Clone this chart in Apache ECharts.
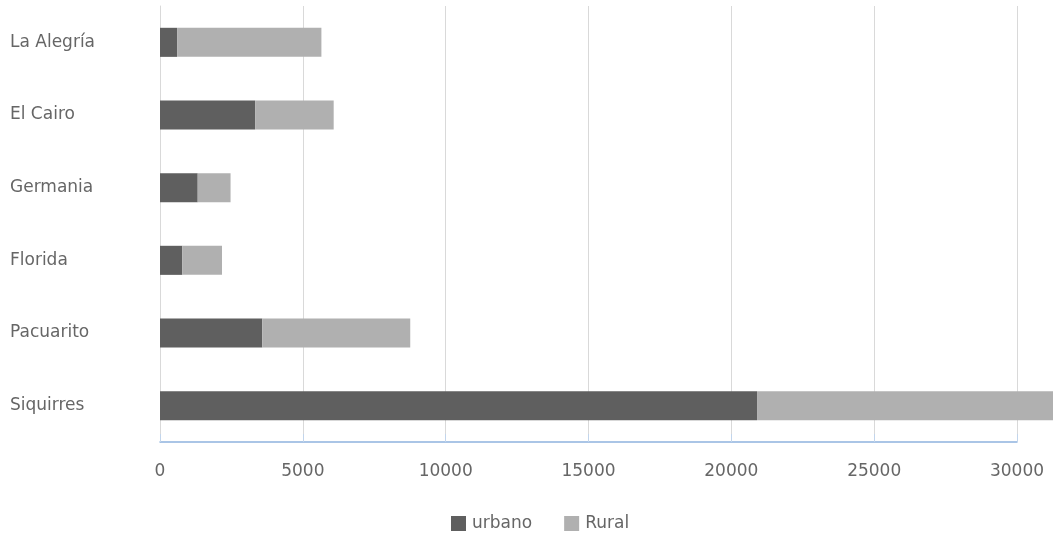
<!DOCTYPE html>
<html>
<head>
<meta charset="utf-8">
<script src="https://cdn.jsdelivr.net/npm/echarts@6/dist/echarts.min.js"></script>
<style>
html,body{margin:0;padding:0;background:#fff;}
#c{width:1053px;height:537px;}
</style>
</head>
<body>
<div id="c"></div>
<script>
var categories = ["Siquirres", "Pacuarito", "Florida", "Germania", "El Cairo", "La Alegría"];
var urbano = [20900, 3580, 780, 1320, 3330, 600];
var rural = [11100, 5180, 1390, 1150, 2750, 5050];
var xTicks = [0, 5000, 10000, 15000, 20000, 25000, 30000];

var chart = echarts.init(document.getElementById('c'), null, {renderer: 'canvas'});
var font = '"DejaVu Sans", "Noto Sans", sans-serif';
var txt = '#666666';
chart.setOption({
  animation: false,
  backgroundColor: '#ffffff',
  textStyle: {fontFamily: font},
  grid: {left: 160, right: 36, top: 6, bottom: 95, containLabel: false},
  legend: {
    top: 510, left: 446,
    itemWidth: 15, itemHeight: 15, itemGap: 32,
    icon: 'rect',
    textStyle: {color: txt, fontSize: 17, fontFamily: font, padding: [0, 0, 0, 1]},
    data: ['urbano', 'Rural']
  },
  xAxis: [{
    type: 'value', min: xTicks[0], max: xTicks[xTicks.length - 1], interval: 5000,
    axisLine: {show: false}, axisTick: {show: false},
    splitLine: {show: true, lineStyle: {color: '#d9d9d9', width: 1}},
    axisLabel: {color: txt, fontSize: 17, margin: 21, fontFamily: font,
      formatter: function (v) { return String(v); }}
  }, {
    type: 'value', min: xTicks[0], max: xTicks[xTicks.length - 1], interval: 5000, position: 'bottom',
    axisLine: {show: true, lineStyle: {color: '#8fb3de', width: 1.5}},
    axisTick: {show: true, inside: true, length: 8, lineStyle: {color: '#c2d5ec'}},
    splitLine: {show: false}, axisLabel: {show: false}
  }],
  yAxis: {
    type: 'category', data: categories,
    axisLine: {show: true, onZero: false, lineStyle: {color: '#d9d9d9'}},
    axisTick: {show: false},
    axisLabel: {color: txt, fontSize: 17, align: 'left', margin: 150, fontFamily: font}
  },
  series: [
    {name: 'urbano', type: 'bar', stack: 't', data: urbano, barCategoryGap: '60%', clip: false,
     itemStyle: {color: '#5f5f5f'}},
    {name: 'Rural', type: 'bar', stack: 't', data: rural, barCategoryGap: '60%', clip: false,
     itemStyle: {color: '#b0b0b0'}},
    {type: 'line', xAxisIndex: 1, data: []}
  ]
});
</script>
</body>
</html>
